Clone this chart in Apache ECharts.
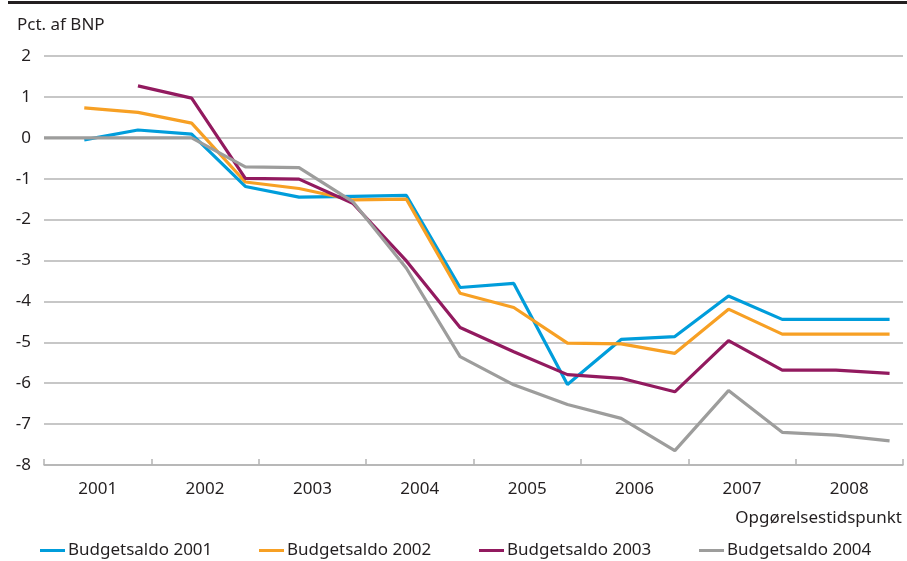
<!DOCTYPE html>
<html>
<head>
<meta charset="utf-8">
<script src="https://cdn.jsdelivr.net/npm/echarts@6/dist/echarts.min.js"></script>
<style>
  html, body { margin: 0; padding: 0; background: #fff; }
  #chart { width: 907px; height: 561px; }
</style>
</head>
<body>
<div id="chart"></div>
<script>
// Year categories shown along the time axis
const years = ['2001', '2002', '2003', '2004', '2005', '2006', '2007', '2008'];

// Time of each estimate, as decimal years
const estimateTimes = [2001.0, 2001.375, 2001.875, 2002.375, 2002.875, 2003.375, 2003.875,
  2004.375, 2004.875, 2005.375, 2005.875, 2006.375, 2006.875, 2007.375, 2007.875,
  2008.375, 2008.875];

// Budget balance estimates, pct. of GDP (null = no estimate yet)
const saldo2001 = [null, -0.05, 0.19, 0.09, -1.19, -1.45, -1.43, -1.41, -3.66, -3.56, -6.03,
  -4.93, -4.86, -3.87, -4.44, -4.44, -4.44];
const saldo2002 = [null, 0.73, 0.62, 0.36, -1.08, -1.24, -1.52, -1.50, -3.80, -4.15, -5.02,
  -5.04, -5.27, -4.19, -4.80, -4.80, -4.80];
const saldo2003 = [null, null, 1.27, 0.97, -0.99, -1.01, -1.60, -3.01, -4.64, -5.23, -5.79,
  -5.88, -6.21, -4.96, -5.68, -5.68, -5.76];
const saldo2004 = [0, 0, 0, 0, -0.71, -0.73, -1.56, -3.19, -5.35, -6.04, -6.52, -6.86,
  -7.65, -6.18, -7.20, -7.27, -7.41];

const seriesNames = ['Budgetsaldo 2001', 'Budgetsaldo 2002', 'Budgetsaldo 2003', 'Budgetsaldo 2004'];
const seriesValues = [saldo2001, saldo2002, saldo2003, saldo2004];
const colors = ['#009ddb', '#f7a024', '#921a5f', '#9d9d9c'];

const FONT = 'Noto Sans';
const FS = 17;
const TEXT = '#231f20';

function toPairs(values) {
  const out = [];
  values.forEach((v, i) => { if (v !== null) out.push([estimateTimes[i], v]); });
  return out;
}

const chart = echarts.init(document.getElementById('chart'), null, { renderer: 'canvas' });

const legendLefts = [40, 259, 479, 699];

chart.setOption({
  animation: false,
  backgroundColor: '#ffffff',
  textStyle: { fontFamily: FONT, color: TEXT },
  grid: { left: 44, right: 4, top: 56, bottom: 96, containLabel: false },
  xAxis: [
    {
      type: 'value', min: 2001, max: 2009, show: false
    },
    {
      type: 'category', data: years, position: 'bottom', offset: 0,
      boundaryGap: true,
      axisLine: { show: true, lineStyle: { color: '#b4b4b4', width: 1.5 } },
      axisTick: { show: true, inside: true, length: 6, lineStyle: { color: '#b4b4b4', width: 1.5 } },
      axisLabel: { fontFamily: FONT, fontSize: FS, color: TEXT, margin: 16 },
      splitLine: { show: false }
    }
  ],
  yAxis: {
    type: 'value', min: -8, max: 2, interval: 1,
    axisLine: { show: false },
    axisTick: { show: false },
    axisLabel: { fontFamily: FONT, fontSize: FS, color: TEXT, margin: 13 },
    splitLine: { show: true, lineStyle: { color: '#b4b4b4', width: 1.5 } }
  },
  legend: seriesNames.map((name, i) => ({
    data: [name],
    left: legendLefts[i],
    top: 542,
    icon: 'rect',
    itemWidth: 25,
    itemHeight: 3,
    itemGap: 0,
    padding: 0,
    textStyle: { fontFamily: FONT, fontSize: FS, color: TEXT, padding: [0, 0, 0, -2] },
    selectedMode: false
  })),
  graphic: [
    { type: 'rect', left: 8, top: 1, shape: { width: 899, height: 3 }, style: { fill: TEXT } },
    { type: 'text', left: 17, top: 17, style: { text: 'Pct. af BNP', font: FS + 'px "Noto Sans"', fill: TEXT } },
    { type: 'text', right: 5, top: 510, style: { text: 'Opgørelsestidspunkt', font: FS + 'px "Noto Sans"', fill: TEXT } }
  ],
  series: seriesNames.map((name, i) => ({
    name: name,
    type: 'line',
    xAxisIndex: 0,
    data: toPairs(seriesValues[i]),
    showSymbol: false,
    symbol: 'none',
    lineStyle: { color: colors[i], width: 3.2 },
    itemStyle: { color: colors[i] },
    connectNulls: false
  }))
});
</script>
</body>
</html>
